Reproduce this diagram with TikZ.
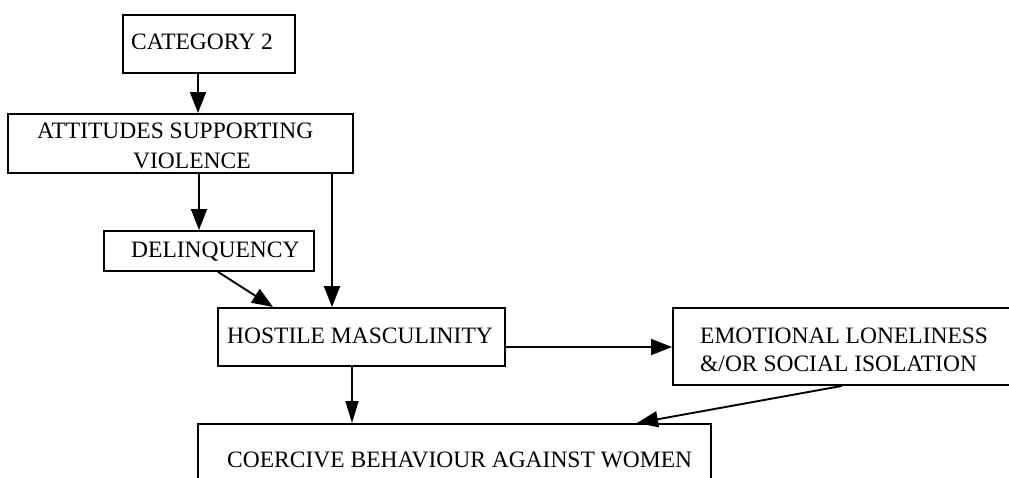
\documentclass[tikz,border=0pt]{standalone}
\usepackage{fontspec}
\setmainfont{Liberation Serif}
\usetikzlibrary{arrows.meta}
\begin{document}
\begin{tikzpicture}[x=1pt,y=-1pt,
  box/.style={draw,line width=1.9pt,rectangle,inner sep=0pt,anchor=north west},
  lbl/.style={anchor=base west,inner sep=0pt,font=\fontsize{23.5pt}{28pt}\selectfont},
  arr/.style={line width=1.9pt,-{Triangle[length=21pt,width=16pt]}},
  arrs/.style={line width=1.9pt,-{Triangle[length=22pt,width=13pt]}}]
\useasboundingbox (0,0) rectangle (1009,477);
\clip (0,0) rectangle (1009,477);
\fill[white] (0,0) rectangle (1009,477);
% boxes
\node[box,minimum width=172pt,minimum height=58pt] (cat) at (122,14) {};
\node[box,minimum width=345pt,minimum height=59pt] (att) at (7,113) {};
\node[box,minimum width=210pt,minimum height=40pt] (del) at (103,230) {};
\node[box,minimum width=287pt,minimum height=58pt] (hos) at (217,307) {};
\node[box,minimum width=360pt,minimum height=77pt] (emo) at (672,307) {};
\node[box,minimum width=513pt,minimum height=80pt] (coe) at (197,423) {};
% labels
\node[lbl] (catT) at (131,49) {CATEGORY 2};
\node[lbl] (attT1) at (37,138) {ATTITUDES SUPPORTING};
\node[lbl] (attT2) at (133,168) {VIOLENCE};
\node[lbl] (delT) at (131,257) {DELINQUENCY};
\node[lbl] (hosT) at (227,343) {HOSTILE MASCULINITY};
\node[lbl] (emoT1) at (700,343) {EMOTIONAL LONELINESS};
\node[lbl] (emoT2) at (700,371) {\&/OR SOCIAL ISOLATION};
\node[lbl] (coeT) at (227,467) {COERCIVE BEHAVIOUR AGAINST WOMEN};
% connectors
\draw[arr] (cat.south -| 198,0) -- (att.north -| 198,0);
\draw[arr] (att.south -| 199,0) -- (del.north -| 199,0);
\draw[arr] (att.south -| 332,0) -- (hos.north -| 332,0);
\draw[arr] (del.south -| 218,0) -- (hos.north -| 273,0);
\draw[arr] (hos.east |- 0,347) -- (emo.west |- 0,347);
\draw[arrs] (hos.south -| 352,0) -- (coe.north -| 352,0);
\draw[arr] (emo.south -| 842,0) -- (coe.north -| 637,0);
\end{tikzpicture}
\end{document}
